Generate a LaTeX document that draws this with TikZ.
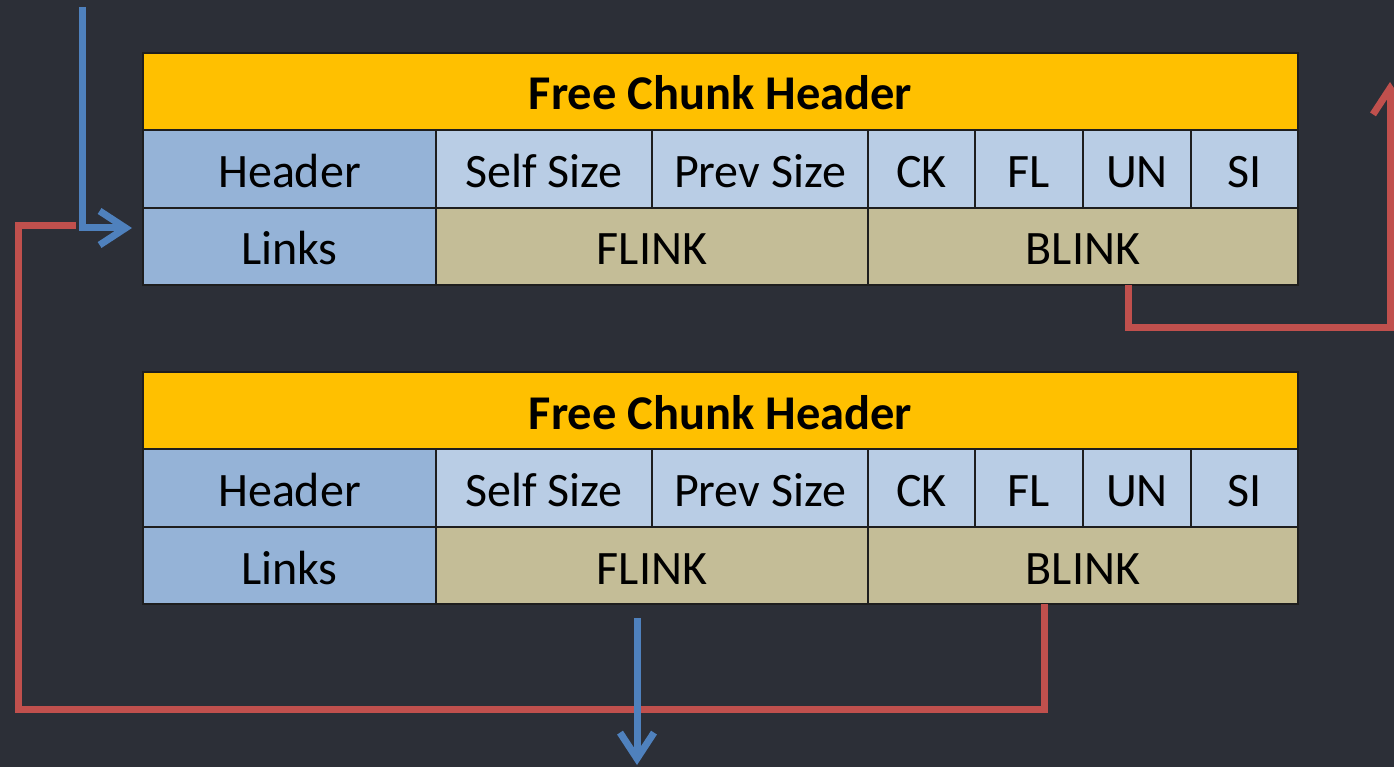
\documentclass[tikz,border=0pt]{standalone}
\usepackage{fontspec}
\setmainfont{Carlito}
\usetikzlibrary{arrows.meta}
\definecolor{bgc}{HTML}{2C2F37}
\definecolor{ylw}{HTML}{FFC000}
\definecolor{hblue}{HTML}{95B3D7}
\definecolor{lblue}{HTML}{B9CDE5}
\definecolor{tan}{HTML}{C4BD97}
\definecolor{redc}{HTML}{C0504D}
\definecolor{bluec}{HTML}{4F81BD}
\definecolor{edge}{HTML}{1E1E1E}
\tikzset{
  cellbox/.style={draw=edge, line width=2.4pt, anchor=north west, inner sep=0pt, outer sep=0pt,
    text=black, font=\fontsize{48}{52}\selectfont, text height=37pt, text depth=0pt, align=center},
  titlebox/.style={cellbox, fill=ylw, font=\bfseries\fontsize{48.5}{52}\selectfont},
  redline/.style={draw=redc, line width=7pt},
  blueline/.style={draw=bluec, line width=7pt},
  barb/.style={-{Straight Barb[length=26pt,width=34pt]}},
}
\newcommand\chunk[2]{%
  % #1 = prefix, #2 = top y
  \begin{scope}[shift={(0,#2)}]
    \node[titlebox, minimum width=1155pt, minimum height=77pt] (#1T) at (143,0) {Free Chunk Header};
    \node[cellbox, fill=hblue, minimum width=293pt, minimum height=78pt] (#1H) at (143,77) {Header};
    \node[cellbox, fill=lblue, minimum width=216pt, minimum height=78pt] (#1S) at (436,77) {Self Size};
    \node[cellbox, fill=lblue, minimum width=216pt, minimum height=78pt] (#1P) at (652,77) {Prev Size};
    \node[cellbox, fill=lblue, minimum width=107pt, minimum height=78pt] (#1C) at (868,77) {CK};
    \node[cellbox, fill=lblue, minimum width=108pt, minimum height=78pt] (#1F) at (975,77) {FL};
    \node[cellbox, fill=lblue, minimum width=108pt, minimum height=78pt] (#1U) at (1083,77) {UN};
    \node[cellbox, fill=lblue, minimum width=107pt, minimum height=78pt] (#1I) at (1191,77) {SI};
    \node[cellbox, fill=hblue, minimum width=293pt, minimum height=77pt] (#1L) at (143,155) {Links};
    \node[cellbox, fill=tan, minimum width=432pt, minimum height=77pt] (#1FL) at (436,155) {FLINK};
    \node[cellbox, fill=tan, minimum width=430pt, minimum height=77pt] (#1BL) at (868,155) {BLINK};
    \draw[edge, line width=2.8pt] (#1T.north west) rectangle (#1BL.south east);
  \end{scope}}
\begin{document}
\begin{tikzpicture}[x=1pt,y=-1pt]
  \fill[bgc] (0,0) rectangle (1394,767);
  \useasboundingbox (0,0) rectangle (1394,767);
  \chunk{a}{53}
  \chunk{b}{372}
  % coordinates
  \coordinate (inTop) at (82,7);
  \coordinate (inTip) at (132,228);
  \coordinate (rA) at (aBL.south -| 1128,0);
  \coordinate (rAtip) at (1390,82);
  \coordinate (rB) at (bBL.south -| 1044,0);
  \coordinate (rBend) at (76,226);
  \coordinate (outTop) at (637,618);
  \coordinate (outTip) at (637,765);
  % red connectors
  \draw[redline, barb] (rA) -- (1128,327) -| (rAtip);
  \draw[redline] (rB) -- (1044,709) -| (18,226) -- (rBend);
  % blue connectors
  \draw[blueline, barb] (inTop) |- (inTip);
  \draw[blueline, barb] (outTop) -- (outTip);
\end{tikzpicture}
\end{document}
